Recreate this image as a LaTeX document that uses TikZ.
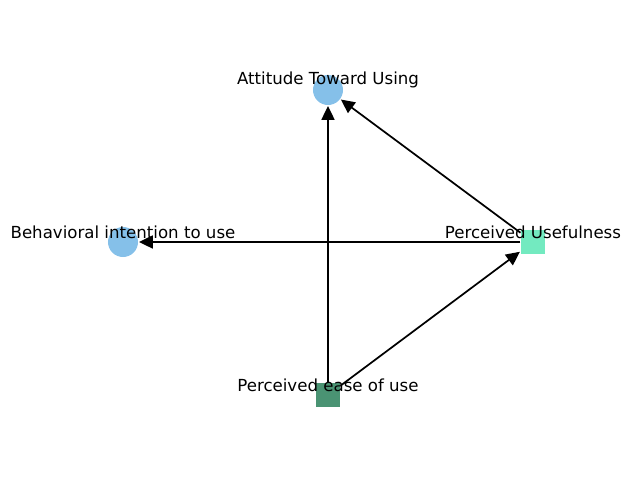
\documentclass[tikz,border=0pt]{standalone}
\usepackage{fontspec}
\setmainfont{DejaVu Sans}
\usetikzlibrary{arrows.meta}

\definecolor{circblue}{HTML}{85C0E9}
\definecolor{usegreen}{HTML}{73EAC0}
\definecolor{easegreen}{HTML}{4A9373}

\tikzset{
  roundnode/.style={circle,fill=circblue,inner sep=0pt,minimum size=0.3in},
  squarenode/.style={rectangle,inner sep=0pt,minimum size=0.245in},
  tamlink/.style={line width=1.25pt,-{Triangle[length=10pt,width=9.4pt]},shorten >=0.5pt},
  tamtext/.style={font=\fontsize{12}{14}\selectfont,inner sep=0pt}
}

\begin{document}
\begin{tikzpicture}[x=0.01in,y=-0.01in]
  \useasboundingbox (0,0) rectangle (640,480);
  \node[roundnode] (atu) at (328,90) {};
  \node[roundnode] (bi) at (123,242) {};
  \node[squarenode,fill=usegreen] (pu) at (533,242) {};
  \node[squarenode,fill=easegreen] (peou) at (328,395) {};
  \draw[tamlink] (peou) -- (atu);
  \draw[tamlink] (peou) -- (pu);
  \draw[tamlink] (pu) -- (atu);
  \draw[tamlink] (pu) -- (bi);
  \node[tamtext] (atulbl) at (328,80) {Attitude Toward Using};
  \node[tamtext] (bilbl) at (123,232) {Behavioral intention to use};
  \node[tamtext] (pulbl) at (533,232) {Perceived Usefulness};
  \node[tamtext] (peoulbl) at (328,385) {Perceived ease of use};
\end{tikzpicture}
\end{document}
